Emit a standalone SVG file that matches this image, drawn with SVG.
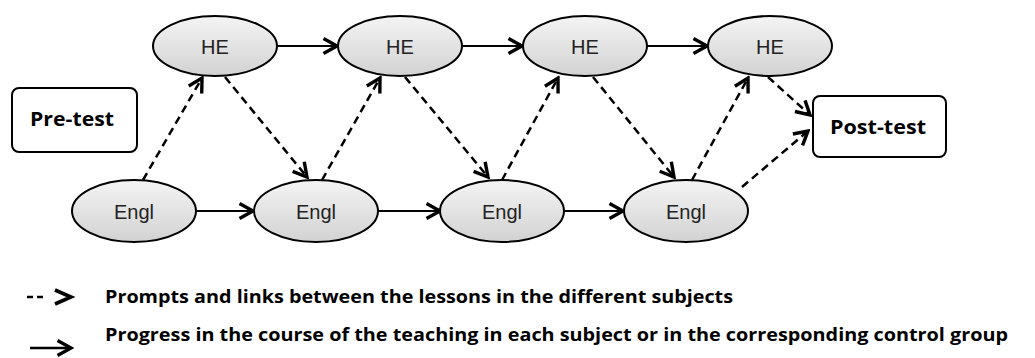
<svg xmlns="http://www.w3.org/2000/svg" width="1035" height="358" viewBox="0 0 1035 358">
<defs>
<linearGradient id="g" x1="0" y1="0" x2="0" y2="1">
<stop offset="0" stop-color="#f4f4f4"/>
<stop offset="1" stop-color="#d2d2d2"/>
</linearGradient>
<marker id="ah" viewBox="0 0 18 20" refX="15.5" refY="10" markerWidth="18" markerHeight="20" markerUnits="userSpaceOnUse" orient="auto">
<path d="M2,2.5 L15.5,10 L2,17.5" fill="none" stroke="#000" stroke-width="3.4" stroke-linejoin="miter"/>
</marker>
</defs>
<style>
.n{fill:url(#g);stroke:#000;stroke-width:2}
.t{font-family:"Liberation Sans",Arial,sans-serif;font-size:20px;fill:#222;text-anchor:middle}
.b{fill:#fff;stroke:#000;stroke-width:2}
.bt{font-family:"Open Sans","Liberation Sans",sans-serif;font-weight:bold;font-size:20px;fill:#000;text-anchor:middle}
.s{fill:none;stroke:#000;stroke-width:2.2;marker-end:url(#ah)}
.d{fill:none;stroke:#000;stroke-width:2.5;stroke-dasharray:8 5;marker-end:url(#ah)}
.lg{font-family:"Open Sans","Liberation Sans",sans-serif;font-weight:bold;font-size:17px;fill:#000}
</style>
<g id="connectors">
<line class="s" x1="277" y1="46" x2="337" y2="46"/>
<line class="s" x1="462" y1="46" x2="522" y2="46"/>
<line class="s" x1="647" y1="46" x2="707" y2="46"/>
<line class="s" x1="196" y1="211" x2="253" y2="211"/>
<line class="s" x1="378" y1="211" x2="440" y2="211"/>
<line class="s" x1="564" y1="211" x2="623" y2="211"/>
<line class="d" x1="143" y1="180" x2="202" y2="78"/>
<line class="d" x1="225" y1="77" x2="307" y2="177"/>
<line class="d" x1="322" y1="180" x2="380" y2="78"/>
<line class="d" x1="405" y1="77" x2="488" y2="177"/>
<line class="d" x1="502" y1="180" x2="558" y2="78"/>
<line class="d" x1="593" y1="77" x2="674" y2="177"/>
<line class="d" x1="692" y1="180" x2="748" y2="78"/>
<line class="d" x1="768" y1="77" x2="810" y2="115"/>
<line class="d" x1="742" y1="187" x2="808" y2="131"/>
</g>
<g id="he1"><ellipse class="n" cx="215" cy="46" rx="62" ry="30"/><text class="t" x="215" y="54">HE</text></g>
<g id="he2"><ellipse class="n" cx="400" cy="46" rx="62" ry="30"/><text class="t" x="400" y="54">HE</text></g>
<g id="he3"><ellipse class="n" cx="585" cy="46" rx="62" ry="30"/><text class="t" x="585" y="54">HE</text></g>
<g id="he4"><ellipse class="n" cx="770" cy="46" rx="62" ry="30"/><text class="t" x="770" y="54">HE</text></g>
<g id="engl1"><ellipse class="n" cx="134" cy="211" rx="62" ry="31"/><text class="t" x="134" y="219">Engl</text></g>
<g id="engl2"><ellipse class="n" cx="316" cy="211" rx="62" ry="31"/><text class="t" x="316" y="219">Engl</text></g>
<g id="engl3"><ellipse class="n" cx="502" cy="211" rx="62" ry="31"/><text class="t" x="502" y="219">Engl</text></g>
<g id="engl4"><ellipse class="n" cx="686" cy="211" rx="62" ry="31"/><text class="t" x="686" y="219">Engl</text></g>
<g id="pretest"><rect class="b" x="12" y="88" width="125" height="64" rx="7"/><text class="bt" x="72" y="126" textLength="84" lengthAdjust="spacingAndGlyphs">Pre-test</text></g>
<g id="posttest"><rect class="b" x="813" y="96" width="133" height="61" rx="7"/><text class="bt" x="878" y="134" textLength="96" lengthAdjust="spacingAndGlyphs">Post-test</text></g>
<g id="legend">
<path d="M27,297 h6 M37,297 h6" fill="none" stroke="#000" stroke-width="2.6"/>
<path d="M55,290 L71,297 L55,304" fill="none" stroke="#000" stroke-width="3.6"/>
<line x1="30" y1="348" x2="71" y2="348" stroke="#000" stroke-width="2.6" marker-end="url(#ah)"/>
<text class="lg" x="105" y="303" textLength="628" lengthAdjust="spacingAndGlyphs">Prompts and links between the lessons in the different subjects</text>
<text class="lg" x="105" y="341" textLength="903" lengthAdjust="spacingAndGlyphs">Progress in the course of the teaching in each subject or in the corresponding control group</text>
</g>
</svg>
